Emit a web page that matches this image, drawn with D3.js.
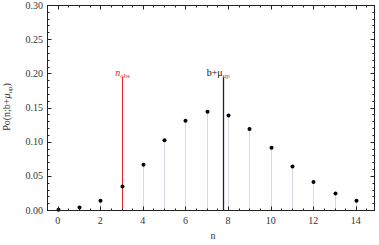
<!DOCTYPE html>
<html>
<head>
<meta charset="utf-8">
<script src="https://cdn.jsdelivr.net/npm/d3@7"></script>
<style>
  body { margin: 0; background: #fff; }
  svg { display: block; font-family: "Liberation Serif", "DejaVu Serif", serif; }
</style>
</head>
<body>
<svg id="chart" width="379" height="245"></svg>
<script>
// Values
const counts = [0, 1, 2, 3, 4, 5, 6, 7, 8, 9, 10, 11, 12, 13, 14];
const probs = [0.0005, 0.0035, 0.0134, 0.0344, 0.0662, 0.1019, 0.1307, 0.1438, 0.1384, 0.1184, 0.0912, 0.0638, 0.0409, 0.0243, 0.0134];
const nObs = 3;
const bPlusMuUp = 7.75;
const markerTop = 0.195;
const xTicks = [0, 2, 4, 6, 8, 10, 12, 14];
const yTicks = [0, 0.05, 0.10, 0.15, 0.20, 0.25, 0.30];

const svg = d3.select("#chart");
const margin = { top: 5, right: 4, bottom: 35, left: 47 };
const width = 379, height = 245;

const x = d3.scaleLinear().domain([-0.5, 14.9]).range([margin.left, width - margin.right]);
const y = d3.scaleLinear().domain([0, 0.30]).range([height - margin.bottom, margin.top]);

// snap to pixel centres so 1px lines stay crisp
const px = v => Math.round(x(v)) + 0.5;
const py = v => Math.round(y(v)) + 0.5;

// stems
svg.append("g")
    .selectAll("line")
    .data(counts)
    .enter()
    .append("line")
    .attr("x1", d => px(d))
    .attr("x2", d => px(d))
    .attr("y1", y(0))
    .attr("y2", (d, i) => y(probs[i]))
    .attr("stroke", "#d8d8ec")
    .attr("stroke-width", 1);

// marker lines
svg.append("line")
    .attr("x1", px(nObs)).attr("x2", px(nObs))
    .attr("y1", y(0)).attr("y2", y(markerTop))
    .attr("stroke", "#e8202a").attr("stroke-width", 1);

svg.append("line")
    .attr("x1", px(bPlusMuUp)).attr("x2", px(bPlusMuUp))
    .attr("y1", y(0)).attr("y2", y(markerTop))
    .attr("stroke", "#222").attr("stroke-width", 1.3);

// points
svg.append("g")
    .selectAll("circle")
    .data(counts)
    .enter()
    .append("circle")
    .attr("cx", d => px(d))
    .attr("cy", (d, i) => y(probs[i]))
    .attr("r", 2)
    .attr("fill", "#000");

// labels on marker lines
const obsLabel = svg.append("text")
    .attr("x", x(nObs) + 1)
    .attr("y", y(markerTop) - 1)
    .attr("text-anchor", "middle")
    .attr("fill", "#e8202a")
    .style("font-size", "10px");
obsLabel.append("tspan").attr("font-style", "italic").text("n");
obsLabel.append("tspan").attr("dy", 2).style("font-size", "7px").text("obs");

const upLabel = svg.append("text")
    .attr("x", x(bPlusMuUp) - 16)
    .attr("y", y(markerTop) - 1)
    .attr("fill", "#111")
    .style("font-size", "10px");
upLabel.append("tspan").text("b+\u03bc");
upLabel.append("tspan").attr("dy", 2).style("font-size", "7px").attr("fill", "#666").text("up");

// frame
const frame = svg.append("g").attr("stroke", "#222");
const fLeft = Math.round(x(-0.5)) + 0.5, fRight = Math.round(x(14.9)) - 0.5;
const fTop = Math.round(y(0.3)) + 0.5, fBottom = Math.round(y(0)) + 0.5;
frame.append("rect")
    .attr("x", fLeft).attr("y", fTop)
    .attr("width", fRight - fLeft)
    .attr("height", fBottom - fTop)
    .attr("fill", "none")
    .attr("stroke-width", 1);

const xMinor = d3.range(-0.5, 14.91, 0.5).filter(v => v % 2 !== 0);
const yMinor = d3.range(0, 0.3001, 0.01).filter(v => Math.abs(Math.round(v * 20) - v * 20) > 1e-6);

function drawTicks(vals, len) {
    vals.forEach(v => {
        const xx = px(v);
        frame.append("line").attr("x1", xx).attr("x2", xx).attr("y1", fBottom).attr("y2", fBottom - len);
        frame.append("line").attr("x1", xx).attr("x2", xx).attr("y1", fTop).attr("y2", fTop + len);
    });
}
function drawYTicks(vals, len) {
    vals.forEach(v => {
        const yy = py(v);
        frame.append("line").attr("x1", fLeft).attr("x2", fLeft + len).attr("y1", yy).attr("y2", yy);
        frame.append("line").attr("x1", fRight).attr("x2", fRight - len).attr("y1", yy).attr("y2", yy);
    });
}
drawTicks(xTicks, 4);
drawTicks(xMinor, 2);
drawYTicks(yTicks, 4);
drawYTicks(yMinor, 2);

// tick labels
svg.append("g")
    .selectAll("text")
    .data(xTicks)
    .enter()
    .append("text")
    .attr("x", d => x(d))
    .attr("y", y(0) + 14)
    .attr("text-anchor", "middle")
    .attr("fill", "#333")
    .style("font-size", "10px")
    .text(d => d);

svg.append("g")
    .selectAll("text")
    .data(yTicks)
    .enter()
    .append("text")
    .attr("x", x(-0.5) - 4)
    .attr("y", d => y(d) + 3.5)
    .attr("text-anchor", "end")
    .attr("fill", "#333")
    .style("font-size", "10px")
    .text(d => d.toFixed(2));

// axis titles
svg.append("text")
    .attr("x", 213)
    .attr("y", 239)
    .attr("text-anchor", "middle")
    .attr("fill", "#333")
    .style("font-size", "10px")
    .text("n");

const yTitle = svg.append("text")
    .attr("transform", "translate(10,107) rotate(-90)")
    .attr("text-anchor", "middle")
    .attr("fill", "#333")
    .style("font-size", "10px");
yTitle.append("tspan").text("Po(n;b+");
yTitle.append("tspan").attr("font-style", "italic").text("\u03bc");
yTitle.append("tspan").attr("dy", 2).style("font-size", "7px").text("up");
yTitle.append("tspan").attr("dy", -2).text(")");
</script>
</body>
</html>
